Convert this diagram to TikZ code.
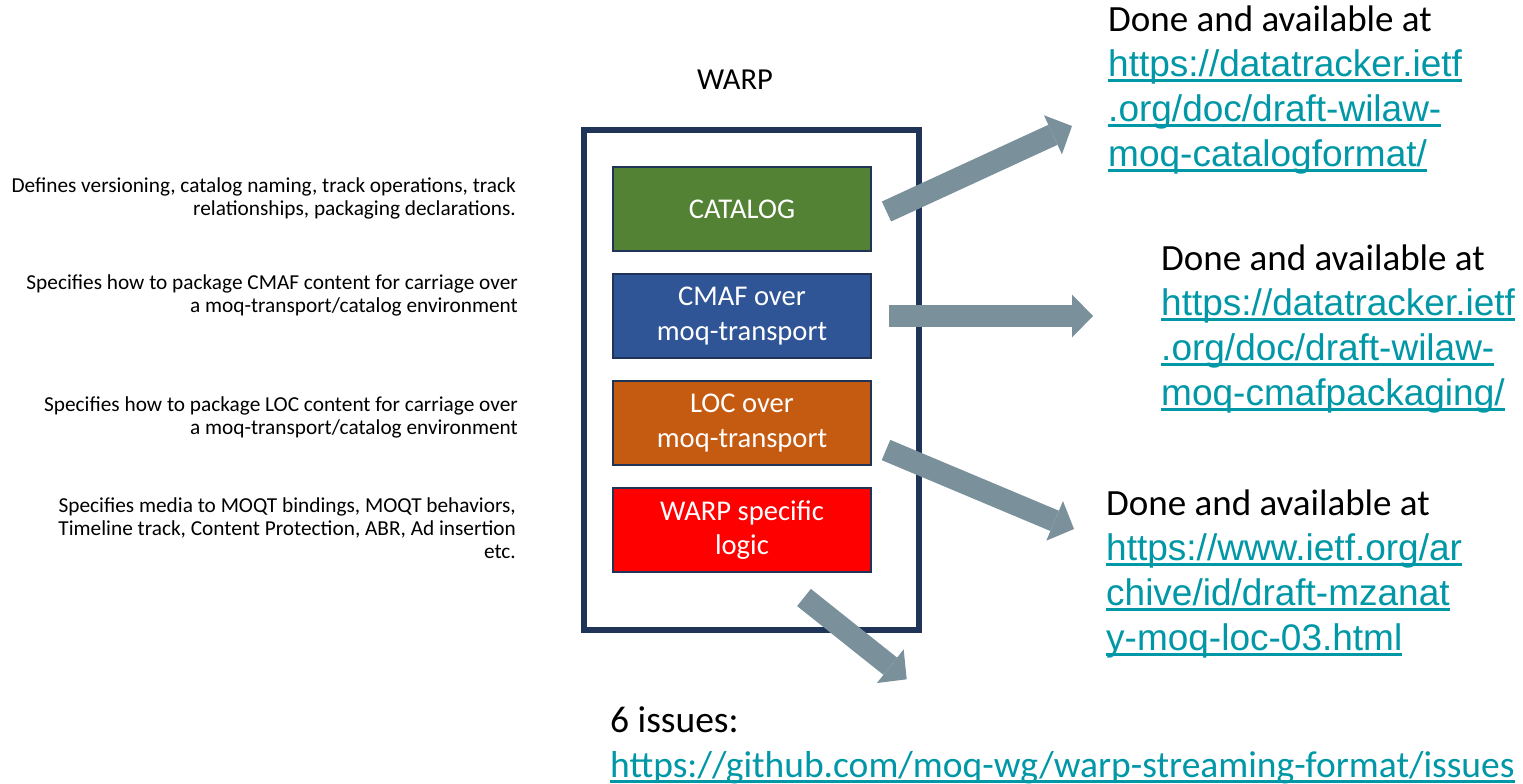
\documentclass[tikz,border=0pt]{standalone}
\usepackage{fontspec}
\setmainfont{Carlito}
\newfontfamily\arialfont{Liberation Sans}
\usepackage{xcolor}
\definecolor{framenavy}{RGB}{32,52,88}
\definecolor{catgreen}{RGB}{84,130,53}
\definecolor{cmafblue}{RGB}{47,85,151}
\definecolor{locorange}{RGB}{197,90,17}
\definecolor{warpred}{RGB}{255,0,0}
\definecolor{arrowgray}{RGB}{122,145,156}
\definecolor{linkteal}{RGB}{0,151,167}
\usepackage{tikz}
\usetikzlibrary{arrows.meta, positioning, calc}

\newsavebox{\linkbox}
\newcommand{\underlined}[1]{\sbox{\linkbox}{#1}\rlap{\rule[-6pt]{\wd\linkbox}{3pt}}\usebox{\linkbox}}
\newcommand{\weblink}[1]{{\color{linkteal}\arialfont\underlined{#1}}}

\begin{document}
\begin{tikzpicture}[x=1pt, y=-1pt,
  layerbox/.style={rectangle, draw=framenavy, line width=2pt, minimum width=258, minimum height=84,
               text=white, align=center, font=\fontsize{28.6}{34.5}\selectfont},
  note/.style={align=right, anchor=base east, inner sep=0pt, font=\fontsize{21.3}{23}\selectfont},
  donetext/.style={align=left, anchor=base west, inner sep=0pt, font=\fontsize{37}{45}\selectfont},
  blockarr/.style={line width=22pt, draw=arrowgray, -{Triangle[length=21pt, width=43pt, line width=0pt]}}
]
\useasboundingbox[fill=white] (0,0) rectangle (1523,784);

\node[font=\fontsize{30.5}{36}\selectfont, anchor=base] (warptitle) at (735,89) {WARP};
\node[draw=framenavy, line width=6pt, minimum width=335, minimum height=500, inner sep=0pt] (warpframe) at (751,379.5) {};

\node[layerbox, fill=catgreen] (cat) at (742,209) {CATALOG};
\node[layerbox, fill=cmafblue, below=21pt of cat] (cmaf) {CMAF over\\moq-transport};
\node[layerbox, fill=locorange, below=21pt of cmaf] (loc) {LOC over\\moq-transport};
\node[layerbox, fill=warpred, below=21pt of loc] (warp) {WARP specific\\logic};

% base anchor sits on the last line
\node[note] (catnote) at (516,215) {Defines versioning, catalog naming, track operations, track\\relationships, packaging declarations.};
\node[note] (cmafnote) at (518,312) {Specifies how to package CMAF content for carriage over\\a moq-transport/catalog environment};
\node[note] (locnote) at (518,434) {Specifies how to package LOC content for carriage over\\a moq-transport/catalog environment};
\node[note] (warpnote) at (516,558) {Specifies media to MOQT bindings, MOQT behaviors,\\Timeline track, Content Protection, ABR, Ad insertion\\etc.};

\node[donetext] (catlink) at (1108,166) {Done and available at\\\weblink{https://datatracker.ietf}\\\weblink{.org/doc/draft-wilaw-}\\\weblink{moq-catalogformat/}};
\node[donetext] (cmaflink) at (1161,405) {Done and available at\\\weblink{https://datatracker.ietf}\\\weblink{.org/doc/draft-wilaw-}\\\weblink{moq-cmafpackaging/}};
\node[donetext] (loclink) at (1106,650) {Done and available at\\\weblink{https://www.ietf.org/ar}\\\weblink{chive/id/draft-mzanat}\\\weblink{y-moq-loc-03.html}};
\node[donetext, font=\fontsize{37.5}{45}\selectfont] (issuelink) at (610,777) {6 issues:\\{\color{linkteal}\underlined{https://github.com/moq-wg/warp-streaming-format/issues}}};

\coordinate (a1s) at ($(cat.east)+(14.5,2.5)$);  \coordinate (a1e) at (1072,126);
\coordinate (a2s) at ($(cmaf.east)+(17,0)$);     \coordinate (a2e) at (1093,316);
\coordinate (a3s) at ($(loc.east)+(14,27)$);     \coordinate (a3e) at (1074,529);
\coordinate (a4s) at ($(warp.south)+(62,24.5)$); \coordinate (a4e) at (906.7,679.3);

\draw[blockarr] (a1s)--(a1e); \draw[blockarr] (a2s)--(a2e);
\draw[blockarr] (a3s)--(a3e); \draw[blockarr] (a4s)--(a4e);
\end{tikzpicture}
\end{document}
